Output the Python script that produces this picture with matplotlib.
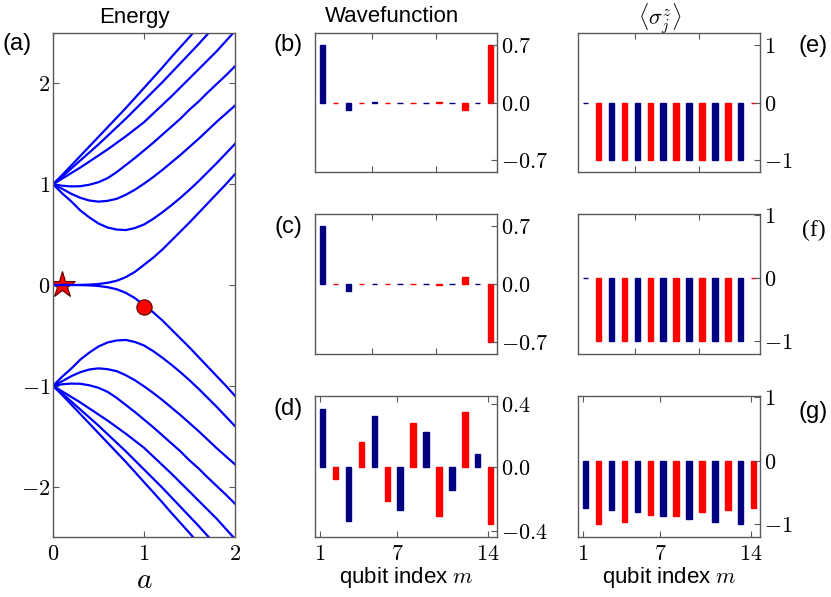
import matplotlib
matplotlib.use("Agg")
import matplotlib.pyplot as plt
import numpy as np

plt.rcParams["mathtext.fontset"] = "cm"
plt.rcParams["font.family"] = ["Liberation Sans", "DejaVu Sans"]

# ---- data ----
# (a) energy levels vs a; only the E >= 0 half is listed, the spectrum is mirrored (E -> -E)
a_grid = [0.0, 0.1, 0.2, 0.3, 0.4, 0.5, 0.6, 0.7, 0.8, 0.9, 1.0,
          1.1, 1.2, 1.3, 1.4, 1.5, 1.6, 1.7, 1.8, 1.9, 2.0]
level_1 = [1.0, 1.09, 1.185, 1.28, 1.375, 1.47, 1.565, 1.66, 1.755, 1.855, 1.955,
           2.055, 2.155, 2.26, 2.36, 2.46, 2.565, 2.67, 2.77, 2.875, 2.98]
level_2 = [1.0, 1.075, 1.155, 1.235, 1.315, 1.395, 1.48, 1.565, 1.65, 1.74, 1.83,
           1.92, 2.01, 2.105, 2.20, 2.295, 2.39, 2.49, 2.585, 2.68, 2.78]
level_3 = [1.0, 1.055, 1.11, 1.165, 1.225, 1.285, 1.345, 1.41, 1.475, 1.545, 1.615,
           1.70, 1.785, 1.87, 1.96, 2.05, 2.14, 2.23, 2.32, 2.42, 2.52]
level_4 = [1.0, 0.985, 0.978, 0.98, 0.995, 1.02, 1.06, 1.12, 1.19, 1.26, 1.335,
           1.41, 1.49, 1.57, 1.65, 1.74, 1.82, 1.91, 1.995, 2.08, 2.17]
level_5 = [1.0, 0.955, 0.905, 0.865, 0.838, 0.827, 0.835, 0.855, 0.895, 0.945, 1.005,
           1.07, 1.14, 1.215, 1.29, 1.37, 1.45, 1.535, 1.62, 1.70, 1.78]
level_6 = [1.0, 0.91, 0.83, 0.74, 0.67, 0.61, 0.57, 0.55, 0.545, 0.565, 0.60,
           0.655, 0.72, 0.79, 0.865, 0.945, 1.03, 1.12, 1.21, 1.305, 1.40]
level_7 = [0.0, 0.0, 0.0, 0.001, 0.004, 0.01, 0.022, 0.042, 0.078, 0.13, 0.20,
           0.27, 0.35, 0.44, 0.53, 0.62, 0.715, 0.81, 0.905, 1.00, 1.10]
levels = [level_1, level_2, level_3, level_4, level_5, level_6, level_7]
star_pt = (0.1, 0.0)
circle_pt = (1.0, -0.215)

# wavefunctions (b)-(d) and <sigma_z> (e)-(g), qubit m = 1..14
qubits = list(range(1, 15))
wf_b = [0.70, 0.0, -0.09, 0.0, 0.01, 0.0, 0.0, 0.0, 0.0, 0.01, 0.0, -0.09, 0.0, 0.70]
wf_c = [0.70, 0.0, -0.08, 0.0, 0.0, 0.0, 0.0, 0.0, 0.0, -0.01, 0.0, 0.08, 0.0, -0.70]
wf_d = [0.368, -0.074, -0.341, 0.158, 0.322, -0.21, -0.267, 0.28, 0.223, -0.309,
        -0.145, 0.352, 0.086, -0.358]
sz_e = [0.0, -1.0, -1.0, -1.0, -1.0, -1.0, -1.0, -1.0, -1.0, -1.0, -1.0, -1.0, -1.0, 0.0]
sz_f = [0.0, -1.0, -1.0, -1.0, -1.0, -1.0, -1.0, -1.0, -1.0, -1.0, -1.0, -1.0, -1.0, 0.0]
sz_g = [-0.75, -1.0, -0.78, -0.97, -0.81, -0.85, -0.87, -0.87, -0.92, -0.81,
        -0.97, -0.78, -1.0, -0.75]

NAVY, RED = "#000080", "#ff0000"
bar_colors = [NAVY if m % 2 == 1 else RED for m in qubits]

W, H = 831, 597


def box(x0, y0, x1, y1):
    return [x0 / W, 1 - y1 / H, (x1 - x0) / W, (y1 - y0) / H]


fig = plt.figure(figsize=(W / 100, H / 100), dpi=100)
TICK = 16
SPINE = "0.35"


def style(ax):
    for s in ax.spines.values():
        s.set_color(SPINE)
        s.set_linewidth(1.0)
    ax.tick_params(which="both", direction="in", length=4, color=SPINE,
                   labelsize=TICK, width=0.8)


# ---- (a) energy ----
ax = fig.add_axes(box(53, 33, 235, 537))
style(ax)
ax.plot(*star_pt, marker="*", ms=20, mfc="red", mec="#550000", mew=0.8, zorder=1,
        linestyle="none")
for lev in levels:
    ax.plot(a_grid, lev, color="blue", lw=1.6, zorder=2)
    ax.plot(a_grid, -np.array(lev), color="blue", lw=1.6, zorder=2)
ax.plot(*circle_pt, marker="o", ms=11, mfc="red", mec="#550000", mew=0.8, zorder=3,
        linestyle="none")
ax.set_xlim(0, 2)
ax.set_ylim(-2.5, 2.5)
ax.set_xticks([0, 1, 2])
ax.set_xticklabels(["$0$", "$1$", "$2$"])
ax.set_yticks([-2, -1, 0, 1, 2])
ax.set_yticklabels(["$-2$", "$-1$", "$0$", "$1$", "$2$"])
ax.tick_params(axis="x", top=True, pad=5)
ax.tick_params(axis="y", right=True, pad=2)


# ---- bar panels ----
def bar_panel(rect, vals, ylim, yticks, ylabels, bottom_labels):
    ax = fig.add_axes(box(*rect))
    style(ax)
    ax.bar(qubits, vals, width=0.42, align="edge", color=bar_colors,
           edgecolor=bar_colors, linewidth=1.0)
    ax.set_xlim(0.62, 14.7)
    ax.set_ylim(*ylim)
    ax.yaxis.tick_right()
    ax.set_yticks(yticks)
    ax.set_yticklabels(ylabels)
    ax.tick_params(axis="y", left=False, right=True, pad=3)
    ax.tick_params(axis="x", top=True, bottom=True, pad=5)
    if bottom_labels:
        ax.set_xticks([1, 7, 14])
        ax.set_xticklabels(["$1$", "$7$", "$14$"])
    else:
        ax.set_xticks([5, 10])
        ax.set_xticklabels([])
    return ax


wf_ticks = ["$-0.7$", "$0.0$", "$0.7$"]
bar_panel((315, 33, 497, 172), wf_b, (-0.84, 0.84), [-0.7, 0, 0.7], wf_ticks, False)
bar_panel((315, 214, 497, 354), wf_c, (-0.84, 0.84), [-0.7, 0, 0.7], wf_ticks, False)
bar_panel((315, 396, 497, 537), wf_d, (-0.44, 0.45), [-0.4, 0, 0.4],
          ["$-0.4$", "$0.0$", "$0.4$"], True)
sz_ticks = ["$-1$", "$0$", "$1$"]
bar_panel((578, 33, 760, 172), sz_e, (-1.2, 1.2), [-1, 0, 1], sz_ticks, False)
bar_panel((578, 214, 760, 354), sz_f, (-1.2, 1.02), [-1, 0, 1], sz_ticks, False)
bar_panel((578, 396, 760, 537), sz_g, (-1.2, 1.02), [-1, 0, 1], sz_ticks, True)


# ---- texts ----
def ftext(x, y, s, **kw):
    fig.text(x / W, 1 - y / H, s, ha="center", va="center", **kw)


ftext(134, 17, "Energy", fontsize=16)
ftext(392, 17, "Wavefunction", fontsize=16)
ftext(660, 19, r"$\langle\sigma_j^z\rangle$", fontsize=16)
ftext(144, 580, "$a$", fontsize=21)
ftext(406, 577, "qubit index $m$", fontsize=16)
ftext(669, 577, "qubit index $m$", fontsize=16)

LBL = 17
ftext(17, 44, "(a)", fontsize=LBL)
ftext(288, 45, "(b)", fontsize=LBL)
ftext(288, 227, "(c)", fontsize=LBL)
ftext(288, 409, "(d)", fontsize=LBL)
ftext(813, 46, "(e)", fontsize=LBL)
ftext(814, 230, "(f)", fontsize=LBL, family="Liberation Serif")
ftext(813, 412, "(g)", fontsize=LBL)

fig.savefig("out.png", dpi=100)
